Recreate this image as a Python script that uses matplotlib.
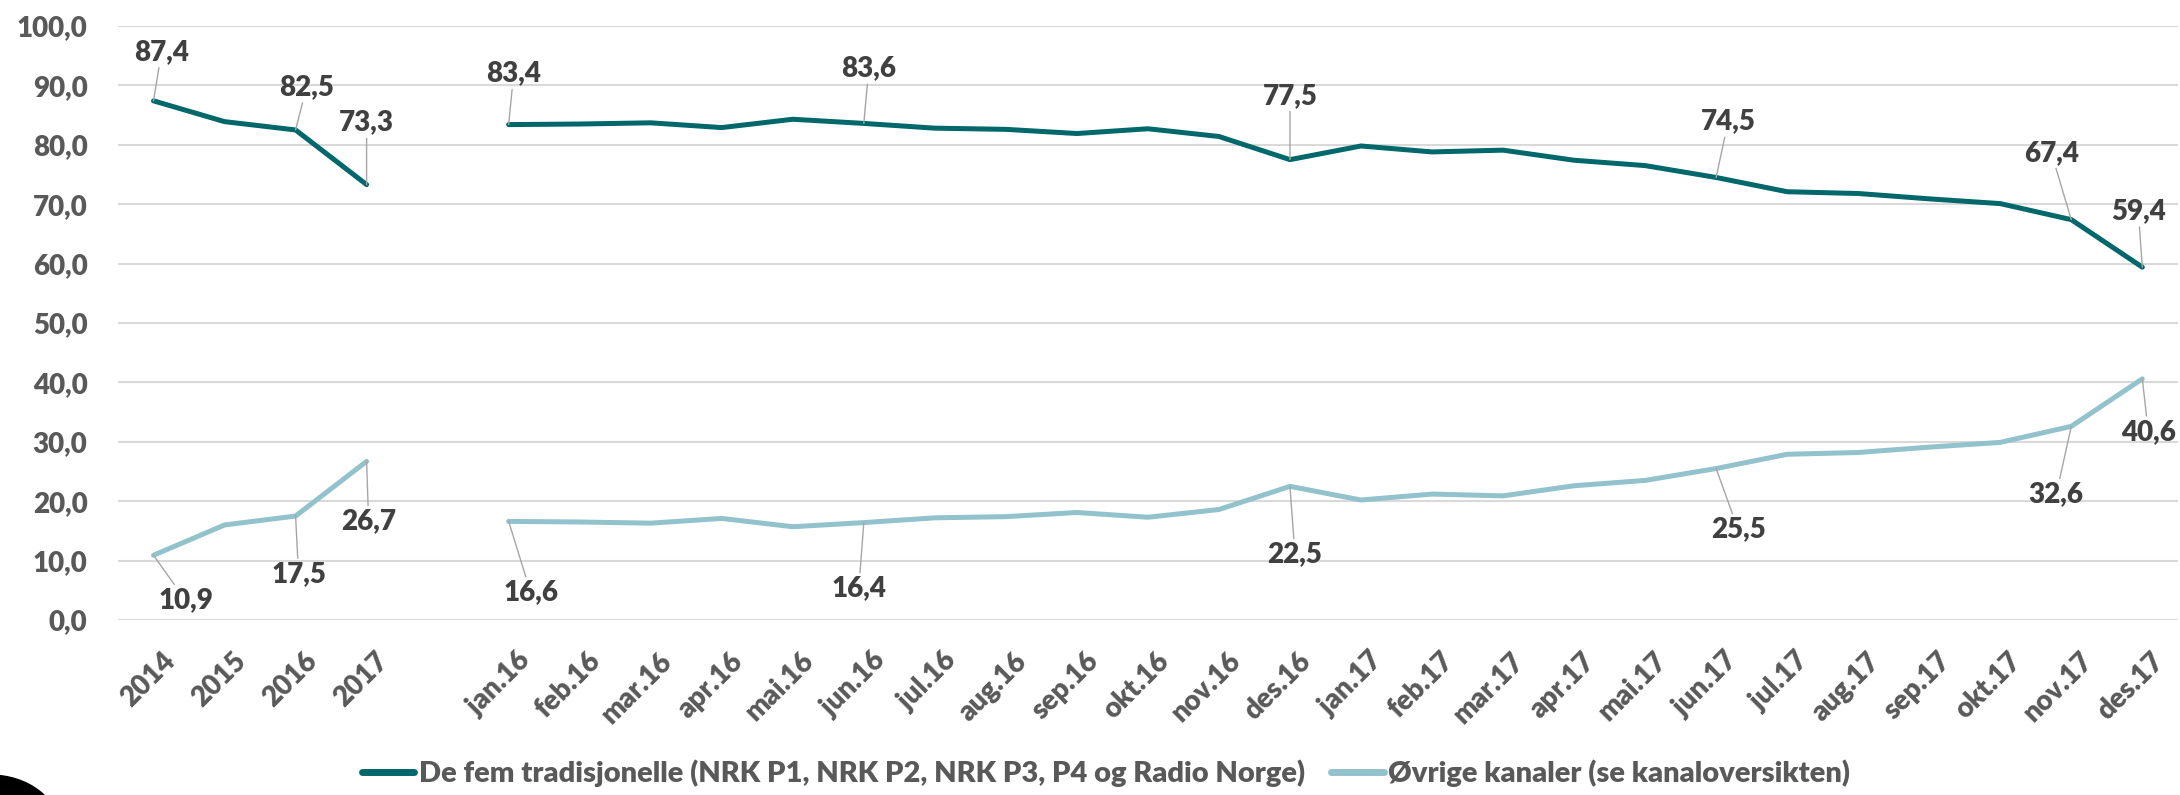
import matplotlib
matplotlib.use("Agg")
import matplotlib.pyplot as plt
import matplotlib.transforms as mtransforms
from matplotlib.patches import Ellipse
import numpy as np

plt.rcParams['font.family'] = ['Lato', 'DejaVu Sans']

categories = ["2014", "2015", "2016", "2017", "",
              "jan.16", "feb.16", "mar.16", "apr.16", "mai.16", "jun.16",
              "jul.16", "aug.16", "sep.16", "okt.16", "nov.16", "des.16",
              "jan.17", "feb.17", "mar.17", "apr.17", "mai.17", "jun.17",
              "jul.17", "aug.17", "sep.17", "okt.17", "nov.17", "des.17"]

tradisjonelle = [87.4, 83.9, 82.5, 73.3, None,
                 83.4, 83.5, 83.7, 82.9, 84.3, 83.6,
                 82.8, 82.6, 81.9, 82.7, 81.4, 77.5,
                 79.8, 78.8, 79.1, 77.4, 76.5, 74.5,
                 72.1, 71.8, 70.9, 70.1, 67.4, 59.4]

ovrige = [10.9, 16.0, 17.5, 26.7, None,
          16.6, 16.5, 16.3, 17.1, 15.7, 16.4,
          17.2, 17.4, 18.1, 17.3, 18.6, 22.5,
          20.2, 21.2, 20.9, 22.6, 23.5, 25.5,
          27.9, 28.2, 29.1, 29.9, 32.6, 40.6]

series_names = ["De fem tradisjonelle (NRK P1, NRK P2, NRK P3, P4 og Radio Norge)",
                "Øvrige kanaler (se kanaloversikten)"]

# labelled points: index -> (dx, dy) offset in pixels
labels_trad = {0: (8, 49), 2: (11, 43), 3: (0, 62), 5: (5, 51), 10: (5, 55),
               16: (0, 64), 22: (12, 56), 27: (-20, 67), 28: (-4, 56)}
labels_ovr = {0: (32, -45), 2: (3, -58), 3: (2, -60), 5: (22, -71), 10: (-5, -66),
              16: (5, -68), 22: (22, -61), 27: (-15, -68), 28: (6, -53)}

c_dark = "#00676B"
c_light = "#92C2CB"
grid_c = "#D9D9D9"
tick_c = "#595959"
lab_c = "#404040"
W = 800

fig = plt.figure(figsize=(21.8, 7.95), dpi=100)
ax = fig.add_axes([118 / 2180, 1 - 620 / 795, 1 - 118 / 2180 - 0.001, (620 - 26) / 795])

x = np.arange(len(categories))


def to_arr(v):
    return np.array([np.nan if a is None else a for a in v], dtype=float)


y1 = to_arr(tradisjonelle)
y2 = to_arr(ovrige)

ax.plot(x, y1, color=c_dark, lw=3.6, solid_capstyle='round', solid_joinstyle='round',
        label=series_names[0], zorder=3)
ax.plot(x, y2, color=c_light, lw=3.6, solid_capstyle='round', solid_joinstyle='round',
        label=series_names[1], zorder=3)


def fmt(v):
    return f"{v:.1f}".replace(".", ",")


for ys, labs in ((y1, labels_trad), (y2, labels_ovr)):
    for i, (dx, dy) in labs.items():
        ax.annotate(fmt(ys[i]), xy=(x[i], ys[i]), xytext=(dx, dy),
                    textcoords='offset pixels', ha='center', va='center',
                    fontsize=20, fontweight=W, color=lab_c,
                    arrowprops=dict(arrowstyle='-', color='#A6A6A6', lw=1.0,
                                    shrinkA=0, shrinkB=0),
                    zorder=4)

ax.set_xlim(-0.5, len(categories) - 0.5)
ax.set_ylim(0, 100)
ax.set_yticks(np.arange(0, 101, 10))
ax.set_yticklabels([fmt(v) for v in np.arange(0, 101, 10)])
ax.set_xticks(x)
ax.set_xticklabels(categories)

ax.grid(axis='y', color=grid_c, lw=1.5)
ax.set_axisbelow(True)
for s in ax.spines.values():
    s.set_visible(False)

ax.tick_params(axis='y', length=0, pad=22, labelsize=20, labelcolor=tick_c)
ax.tick_params(axis='x', length=0, pad=20, labelsize=20, labelcolor=tick_c)
for lab in ax.get_yticklabels():
    lab.set_fontweight(W)
offset = mtransforms.ScaledTranslation(8 / 100, 0, fig.dpi_scale_trans)
for lab in ax.get_xticklabels():
    lab.set_fontweight(W)
    lab.set_rotation(45)
    lab.set_ha('right')
    lab.set_va('top')
    lab.set_rotation_mode('anchor')
    lab.set_transform(lab.get_transform() + offset)

leg = fig.legend(loc='center', bbox_to_anchor=(1106 / 2180, 1 - 773 / 795), ncol=2,
                 frameon=False, handlelength=1.8, handletextpad=0.15,
                 columnspacing=0.9, prop={'size': 21, 'weight': W})
for t in leg.get_texts():
    t.set_color(tick_c)
for h in leg.get_lines():
    h.set_linewidth(5)
    h.set_solid_capstyle('round')

# black blob in bottom-left corner
blob = Ellipse((-10 / 2180, 1 - 830 / 795), 140 / 2180, 110 / 795,
               transform=fig.transFigure, color='black', clip_on=False)
fig.patches.append(blob)

fig.savefig("out.png", dpi=100, facecolor='white')
